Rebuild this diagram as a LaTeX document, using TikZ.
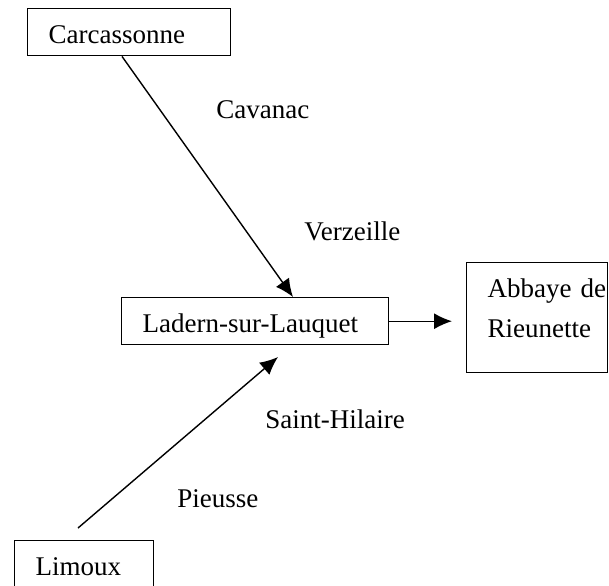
\documentclass[tikz,border=0pt]{standalone}
\usepackage{fontspec}
\setmainfont{Liberation Serif}
\usepackage{tikz}
\usetikzlibrary{arrows.meta,calc}

\tikzset{
  caja/.style={draw, line width=0.7pt, anchor=north west, align=left,
    inner xsep=10.5pt, inner ysep=3.25pt, text height=14.25pt, text depth=2.75pt},
  lugar/.style={anchor=base west, inner sep=0pt},
  flecha/.style={line width=0.7pt, -{Latex[length=9pt,width=8pt]}}
}

\begin{document}
\begin{tikzpicture}[x=0.5pt,y=-0.5pt,font=\fontsize{13.5}{20}\selectfont]
  \useasboundingbox (0,0) rectangle (609,585);

    \draw (27,8) node[caja, text width=80.5pt] (carcassonne) {Carcassonne};
    \draw (121,297) node[caja, text width=112.5pt] (ladern) {Ladern-sur-Lauquet};
      \draw (466,262) node[caja, text width=49.5pt, text depth=34.25pt] (abbaye) {Abbaye~de\\Rieunette};
    \draw (14,540) node[caja, text width=48.5pt] (limoux) {Limoux};

   \draw (216,118) node[lugar] (cavanac) {Cavanac};
   \draw (304,240) node[lugar] (verzeille) {Verzeille};
   \draw (265,428) node[lugar] (sainthilaire) {Saint-Hilaire};
   \draw (177,507) node[lugar] (pieusse) {Pieusse};

   \coordinate (depart) at (78,528);
   \coordinate (arrivee) at (278,357);

     \path[flecha] ($(carcassonne.south west)+(95,0)$) edge ($(ladern.north west)+(172,0)$);
     \path[flecha] (depart) edge (arrivee);
     \path[flecha] (ladern.east) edge ($(abbaye.west |- ladern.east)+(-14,0)$);

\end{tikzpicture}
\end{document}
